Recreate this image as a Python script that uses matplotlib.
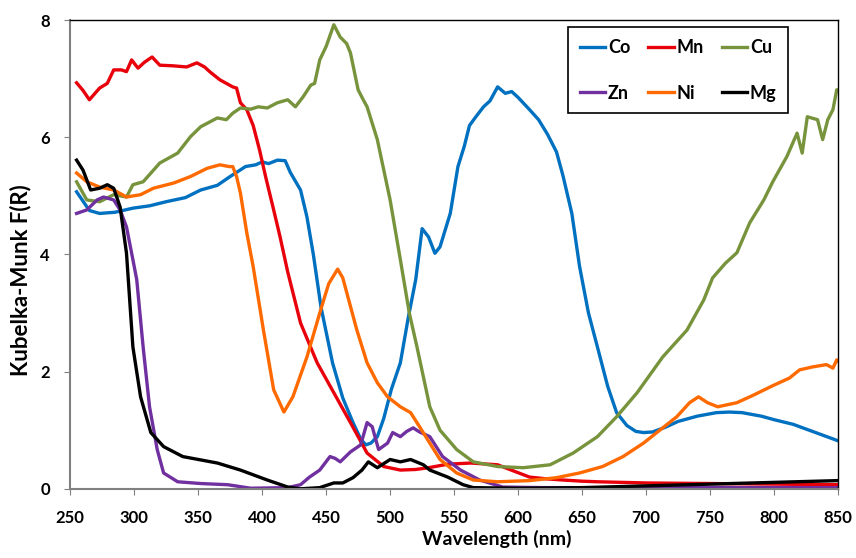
import numpy as np
import matplotlib.pyplot as plt

plt.rcParams['font.family'] = ['Lato', 'DejaVu Sans']
plt.rcParams['font.weight'] = 'bold'

# values (wavelength nm, Kubelka-Munk F(R))
co_wl = [255, 265, 273, 285, 299, 312, 325, 340, 352, 365, 375, 387, 395, 400, 405, 412, 418, 422, 430, 435, 440, 446, 455, 463, 471, 477, 481, 485, 490, 495, 501, 508, 514, 520, 525, 530, 535, 539, 547, 553, 558, 562, 567, 573, 578, 584, 590, 595, 600, 609, 616, 623, 630, 635, 642, 648, 655, 662, 670, 677, 685, 692, 698, 705, 715, 725, 740, 755, 765, 775, 790, 800, 815, 830, 840, 850]
co_val = [5.07, 4.75, 4.70, 4.72, 4.79, 4.83, 4.90, 4.97, 5.10, 5.18, 5.33, 5.50, 5.53, 5.58, 5.55, 5.61, 5.60, 5.40, 5.10, 4.64, 4.00, 3.10, 2.15, 1.55, 1.13, 0.85, 0.75, 0.78, 0.89, 1.20, 1.70, 2.15, 2.90, 3.57, 4.44, 4.30, 4.02, 4.13, 4.70, 5.50, 5.85, 6.20, 6.35, 6.52, 6.62, 6.86, 6.75, 6.78, 6.68, 6.47, 6.30, 6.05, 5.75, 5.35, 4.70, 3.80, 3.00, 2.42, 1.75, 1.30, 1.08, 0.98, 0.96, 0.97, 1.05, 1.15, 1.24, 1.30, 1.31, 1.30, 1.24, 1.18, 1.10, 0.98, 0.90, 0.82]

mn_wl = [255, 260, 265, 273, 279, 284, 290, 294, 298, 303, 308, 314, 320, 330, 341, 349, 355, 359, 367, 377, 380, 383, 388, 393, 398, 403, 409, 414, 420, 430, 443, 456, 469, 482, 495, 508, 520, 530, 545, 563, 584, 597, 609, 622, 635, 650, 662, 700, 750, 800, 850]
mn_val = [6.93, 6.80, 6.64, 6.84, 6.92, 7.15, 7.15, 7.12, 7.32, 7.18, 7.28, 7.37, 7.23, 7.22, 7.20, 7.27, 7.20, 7.12, 6.98, 6.86, 6.84, 6.59, 6.47, 6.20, 5.78, 5.30, 4.76, 4.30, 3.70, 2.83, 2.15, 1.64, 1.13, 0.61, 0.38, 0.32, 0.33, 0.36, 0.42, 0.44, 0.41, 0.30, 0.20, 0.17, 0.15, 0.13, 0.12, 0.10, 0.09, 0.08, 0.07]

cu_wl = [255, 263, 273, 284, 294, 299, 307, 320, 334, 344, 352, 365, 372, 377, 383, 391, 397, 404, 412, 420, 426, 432, 438, 441, 445, 450, 456, 461, 466, 469, 475, 479, 482, 490, 500, 508, 515, 521, 531, 539, 552, 565, 584, 604, 625, 643, 662, 677, 693, 713, 732, 745, 752, 762, 771, 781, 792, 799, 810, 818, 822, 826, 834, 838, 842, 846, 849, 850]
cu_val = [5.24, 4.93, 4.90, 5.02, 4.98, 5.19, 5.24, 5.56, 5.73, 6.01, 6.18, 6.33, 6.30, 6.41, 6.50, 6.48, 6.52, 6.50, 6.59, 6.64, 6.52, 6.69, 6.89, 6.92, 7.32, 7.55, 7.92, 7.71, 7.60, 7.44, 6.81, 6.64, 6.52, 5.96, 4.93, 3.91, 3.00, 2.42, 1.40, 1.00, 0.67, 0.46, 0.38, 0.36, 0.41, 0.61, 0.89, 1.23, 1.64, 2.25, 2.71, 3.22, 3.60, 3.85, 4.03, 4.54, 4.93, 5.24, 5.67, 6.07, 5.73, 6.35, 6.30, 5.96, 6.30, 6.47, 6.81, 6.81]

zn_wl = [255, 263, 271, 276, 284, 289, 294, 299, 302, 307, 312, 318, 323, 334, 352, 373, 391, 420, 430, 437, 445, 453, 457, 461, 469, 477, 482, 486, 491, 498, 502, 508, 513, 518, 523, 531, 541, 555, 570, 588, 620, 700, 850]
zn_val = [4.70, 4.76, 4.93, 4.98, 4.93, 4.76, 4.47, 3.91, 3.57, 2.42, 1.40, 0.67, 0.27, 0.12, 0.09, 0.07, 0.01, 0.02, 0.07, 0.20, 0.32, 0.55, 0.52, 0.46, 0.63, 0.75, 1.13, 1.06, 0.67, 0.78, 0.96, 0.89, 0.98, 1.04, 0.97, 0.89, 0.55, 0.32, 0.15, 0.03, 0.02, 0.02, 0.02]

ni_wl = [255, 263, 273, 284, 294, 305, 315, 331, 344, 357, 367, 374, 377, 380, 383, 388, 393, 401, 409, 417, 424, 435, 445, 452, 459, 463, 474, 482, 490, 498, 508, 516, 523, 531, 539, 552, 565, 584, 609, 630, 648, 666, 682, 698, 713, 724, 734, 741, 748, 756, 771, 784, 799, 812, 820, 830, 841, 846, 849, 850]
ni_val = [5.39, 5.24, 5.15, 5.10, 4.98, 5.02, 5.13, 5.22, 5.33, 5.47, 5.53, 5.50, 5.50, 5.33, 5.05, 4.37, 3.79, 2.71, 1.69, 1.31, 1.57, 2.25, 3.00, 3.50, 3.75, 3.60, 2.71, 2.15, 1.81, 1.57, 1.40, 1.30, 1.06, 0.78, 0.50, 0.27, 0.15, 0.12, 0.14, 0.19, 0.27, 0.38, 0.55, 0.78, 1.04, 1.23, 1.47, 1.57, 1.47, 1.40, 1.47, 1.60, 1.76, 1.89, 2.03, 2.08, 2.12, 2.06, 2.20, 2.18]

mg_wl = [255, 260, 266, 273, 279, 284, 289, 294, 299, 305, 313, 323, 338, 365, 383, 404, 420, 430, 445, 456, 463, 471, 478, 483, 490, 500, 508, 516, 526, 531, 545, 557, 565, 600, 650, 700, 750, 800, 850]
mg_val = [5.61, 5.44, 5.10, 5.13, 5.19, 5.13, 4.81, 4.02, 2.42, 1.57, 0.96, 0.72, 0.55, 0.44, 0.32, 0.15, 0.03, 0.00, 0.02, 0.10, 0.10, 0.19, 0.32, 0.46, 0.36, 0.50, 0.46, 0.50, 0.41, 0.32, 0.20, 0.07, 0.02, 0.01, 0.02, 0.05, 0.08, 0.11, 0.14]

labels = ['Co', 'Mn', 'Cu', 'Zn', 'Ni', 'Mg']
colors = ['#0070C0', '#E8000B', '#77933C', '#7030A0', '#FF6A00', '#000000']

fig = plt.figure(figsize=(8.56, 5.58), dpi=100)
ax = fig.add_axes([0.082, 0.124, 0.897, 0.840])

series = [(co_wl, co_val), (mn_wl, mn_val), (cu_wl, cu_val),
          (zn_wl, zn_val), (ni_wl, ni_val), (mg_wl, mg_val)]
lines = {}
for (wl, val), lab, c in zip(series, labels, colors):
    lines[lab], = ax.plot(wl, val, color=c, lw=2.4, label=lab)

ax.set_xlim(250, 850)
ax.set_ylim(0, 8)
ax.set_xticks(np.arange(250, 851, 50))
ax.set_yticks([0, 2, 4, 6, 8])
ax.tick_params(labelsize=12, color='#808080')
ax.tick_params(axis='x', length=4.5, pad=10.5)
ax.tick_params(axis='y', length=4.5, pad=10)
for s in ['left', 'bottom']:
    ax.spines[s].set_color('#808080')
    ax.spines[s].set_linewidth(1.5)
for s in ['top', 'right']:
    ax.spines[s].set_color('#000000')
    ax.spines[s].set_linewidth(1.0)

ax.set_xlabel('Wavelength (nm)', fontsize=14, fontweight='bold')
ax.xaxis.set_label_coords(0.556, -0.088)
ax.set_ylabel('Kubelka-Munk F(R)', fontsize=16, fontweight='bold')
ax.yaxis.set_label_coords(-0.05, 0.446)

order = ['Co', 'Zn', 'Mn', 'Ni', 'Cu', 'Mg']
leg = ax.legend([lines[k] for k in order], order, ncol=3, loc='upper right',
                bbox_to_anchor=(0.935, 0.985), fontsize=13, handlelength=1.4,
                handletextpad=0.15, columnspacing=1.0, labelspacing=1.6,
                fancybox=False, edgecolor='black', framealpha=1,
                borderpad=0.65, borderaxespad=0)
leg.get_frame().set_linewidth(1.2)

fig.savefig('out.png', dpi=100)
